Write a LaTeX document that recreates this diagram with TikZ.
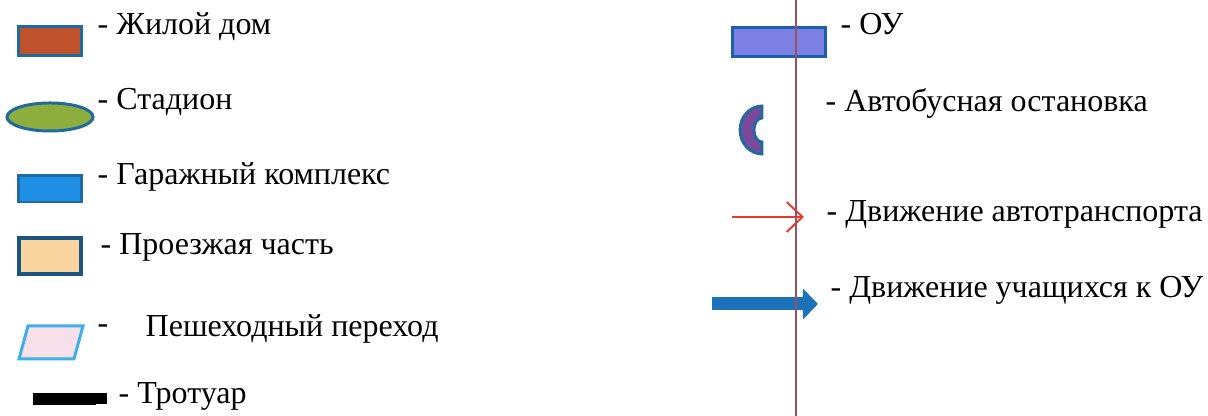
\documentclass[tikz,border=0pt]{standalone}
\usepackage{fontspec}
\setmainfont{Liberation Serif}
\usetikzlibrary{arrows.meta,shapes.geometric}
\definecolor{houseC}{HTML}{C0522B}
\definecolor{stadC}{HTML}{8DAE3C}
\definecolor{garC}{HTML}{1F8FE5}
\definecolor{roadC}{HTML}{FAD49E}
\definecolor{crossC}{HTML}{F7E0EA}
\definecolor{crossE}{HTML}{3DB0EC}
\definecolor{ouC}{HTML}{7C80E2}
\definecolor{stopC}{HTML}{7A4A9A}
\definecolor{edgeC}{HTML}{1F6AA0}
\definecolor{axisC}{HTML}{9A5060}
\definecolor{carC}{HTML}{E8392A}
\definecolor{pupilC}{HTML}{1C72B8}
\tikzset{sym/.style={draw=edgeC,line width=0.85pt,inner sep=0pt},
	lbl/.style={anchor=base west,inner sep=0pt}}

\begin{document}
\begin{tikzpicture}[x=0.01cm,y=-0.01cm,font=\fontsize{9.1}{11}\selectfont]
\useasboundingbox (0,0) rectangle (1208,416);
\node[sym,fill=houseC,minimum width=0.62cm,minimum height=0.29cm] (house) at (50,41) {};
\node[sym,fill=stadC,ellipse,minimum width=0.86cm,minimum height=0.28cm] (stadium) at (50,117) {};
\node[sym,fill=garC,minimum width=0.62cm,minimum height=0.26cm] (garage) at (50,189) {};
\node[sym,draw=edgeC!80!black,line width=1pt,fill=roadC,minimum width=0.62cm,minimum height=0.36cm] (road) at (50,256) {};
\draw[draw=crossE,line width=0.85pt,fill=crossC] (28,326) -- (83,326) -- (74,359) -- (19,359) -- cycle;
\draw[line width=3.4pt,black] (33,399) -- (96,399);
\node[fill=black,minimum size=0.11cm,inner sep=0pt] (walk) at (101,399) {};
\node[sym,draw=edgeC!90!blue,fill=ouC,minimum width=0.93cm,minimum height=0.29cm] (school) at (779,42) {};
\draw[draw=edgeC,line width=0.8pt,fill=stopC] (762,106) arc[start angle=270,end angle=90,x radius=22,y radius=24]
	-- (762,142) arc[start angle=90,end angle=270,x radius=8,y radius=12] -- cycle;
\coordinate (carA) at (732,217);
\coordinate (carB) at (804,217);
\draw[carC,line width=0.55pt,-{Straight Barb[length=0.16cm,width=0.3cm]}] (carA) -- (carB);
\coordinate (pupA) at (712,304);
\coordinate (pupB) at (818,304);
\draw[pupilC,line width=3.7pt,-{Triangle[length=0.15cm,width=0.3cm]}] (pupA) -- (pupB);
\coordinate (axisT) at (796,0);
\coordinate (axisB) at (796,416);
\draw[axisC,line width=0.4pt] (axisT) -- (axisB);
\node[lbl] (tHouse) at (97,35) {- Жилой дом};
\node[lbl] (tStad) at (97,110) {- Стадион};
\node[lbl] (tGar) at (97,185) {- Гаражный комплекс};
\node[lbl] (tRoad) at (100,255) {- Проезжая часть};
\node[lbl] (tDash) at (97,334) {-};
\node[lbl] (tCross) at (145,337) {Пешеходный переход};
\node[lbl] (tWalk) at (118,404) {- Тротуар};
\node[lbl] (tOU) at (840,35) {- ОУ};
\node[lbl] (tStop) at (825,112) {- Автобусная остановка};
\node[lbl] (tCar) at (826,222) {- Движение автотранспорта};
\node[lbl] (tPup) at (830,298) {- Движение учащихся к ОУ};
\end{tikzpicture}
\end{document}
